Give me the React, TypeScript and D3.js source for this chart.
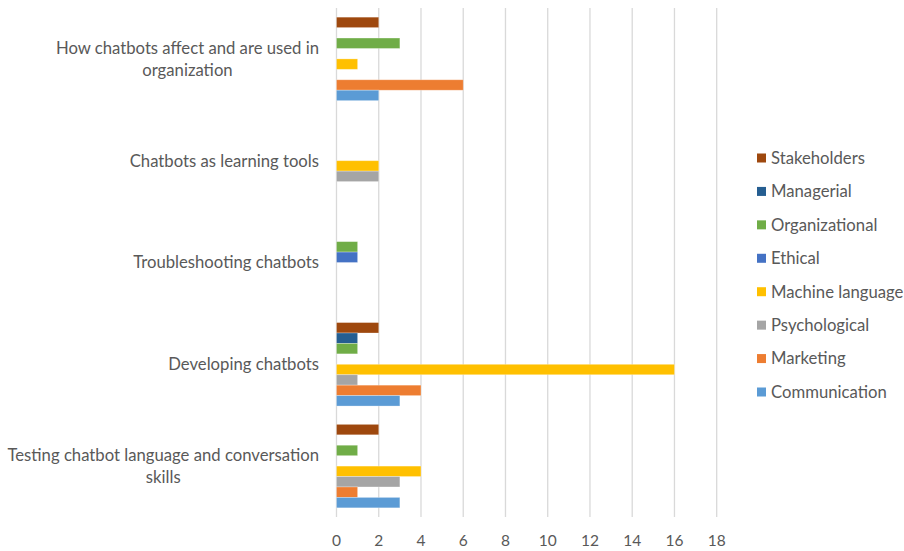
import React, {useEffect, useRef} from 'react';
import * as d3 from 'd3';

const categories = [
  'How chatbots affect and are used in organization',
  'Chatbots as learning tools',
  'Troubleshooting chatbots',
  'Developing chatbots',
  'Testing chatbot language and conversation skills',
];

// wrapped label lines as they appear on the axis
const categoryLines = [
  ['How chatbots affect and are used in', 'organization'],
  ['Chatbots as learning tools'],
  ['Troubleshooting chatbots'],
  ['Developing chatbots'],
  ['Testing chatbot language and conversation', 'skills'],
];

// series listed top to bottom inside each group
const seriesNames = [
  'Stakeholders',
  'Managerial',
  'Organizational',
  'Ethical',
  'Machine language',
  'Psychological',
  'Marketing',
  'Communication',
];

const seriesColors = [
  '#9E480E',
  '#255E91',
  '#70AD47',
  '#4472C4',
  '#FFC000',
  '#A5A5A5',
  '#ED7D31',
  '#5B9BD5',
];

// values per series, in category order
const stakeholders = [2, 0, 0, 2, 2];
const managerial = [0, 0, 0, 1, 0];
const organizational = [3, 0, 1, 1, 1];
const ethical = [0, 0, 1, 0, 0];
const machineLanguage = [1, 2, 0, 16, 4];
const psychological = [0, 2, 0, 1, 3];
const marketing = [6, 0, 0, 4, 1];
const communication = [2, 0, 0, 3, 3];

const seriesValues = [
  stakeholders, managerial, organizational, ethical,
  machineLanguage, psychological, marketing, communication,
];

const xTicks = [0, 2, 4, 6, 8, 10, 12, 14, 16, 18];

const width = 904, height = 551;
const plot = {left: 336.5, right: 716.7, top: 8, bottom: 517};
const textColor = '#595959';
const font = 'Lato, "Open Sans", sans-serif';
const fontSize = 16.7;

const App: React.FC = () => {
  const labelsRef = useRef<SVGGElement>(null);

  const x = d3.scaleLinear().domain([0, 18]).range([plot.left, plot.right]);
  const y = d3.scaleBand<string>()
    .domain(categories)
    .range([plot.top, plot.bottom])
    .paddingInner(0.18)
    .paddingOuter(0.09);
  const ySub = d3.scaleBand<string>()
    .domain(seriesNames)
    .range([0, y.bandwidth()]);

  const legendY = d3.scalePoint<string>()
    .domain(seriesNames)
    .range([158, 392]);

  useEffect(() => {
    // category labels: lines centred on each other, block right-aligned to the axis
    const g = d3.select(labelsRef.current);
    g.selectAll('*').remove();
    const lineH = 22;
    categories.forEach((c, i) => {
      const lines = categoryLines[i];
      const cy = y(c)! + y.bandwidth() / 2;
      const t = g.append('text')
        .attr('font-family', font)
        .attr('font-size', fontSize)
        .attr('fill', textColor)
        .attr('text-anchor', 'middle');
      lines.forEach((l, j) => {
        t.append('tspan')
          .attr('x', 0)
          .attr('y', cy + (j - (lines.length - 1) / 2) * lineH)
          .attr('dy', '0.35em')
          .text(l);
      });
      const w = (t.node() as SVGTextElement).getBBox().width;
      t.selectAll('tspan').attr('x', 319 - w / 2);
    });
  }, []);

  return (
    <svg width={width} height={height} style={{position: 'absolute', left: 0, top: 0, background: '#fff'}}>
      <g>
        {xTicks.map(t => (
          <line key={t} x1={x(t)} x2={x(t)} y1={plot.top} y2={plot.bottom} stroke="#d9d9d9" strokeWidth={1.3}/>
        ))}
      </g>
      <g>
        {categories.map((c, ci) => (
          <g key={c} transform={`translate(0,${y(c)})`}>
            {seriesNames.map((s, si) => {
              const v = seriesValues[si][ci];
              if (!v) return null;
              return (
                <rect key={s}
                      x={x(0)}
                      y={ySub(s)!}
                      width={x(v) - x(0)}
                      height={ySub.bandwidth()}
                      fill={seriesColors[si]}
                      stroke="#ffffff" strokeOpacity={0.35} strokeWidth={0.8}/>
              );
            })}
          </g>
        ))}
      </g>
      <g>
        {xTicks.map(t => (
          <text key={t} x={x(t)} y={540.5} dy="0.35em" textAnchor="middle"
                fontFamily={font} fontSize={15.5} fill={textColor}>{t}</text>
        ))}
      </g>
      <g ref={labelsRef}/>
      <g>
        {seriesNames.map((s, i) => (
          <g key={s} transform={`translate(0,${legendY(s)})`}>
            <rect x={757} y={-4.5} width={9} height={9} fill={seriesColors[i]}/>
            <text x={771} y={0} dy="0.35em" fontFamily={font} fontSize={fontSize} fill={textColor}>{s}</text>
          </g>
        ))}
      </g>
    </svg>
  );
};

export default App;
